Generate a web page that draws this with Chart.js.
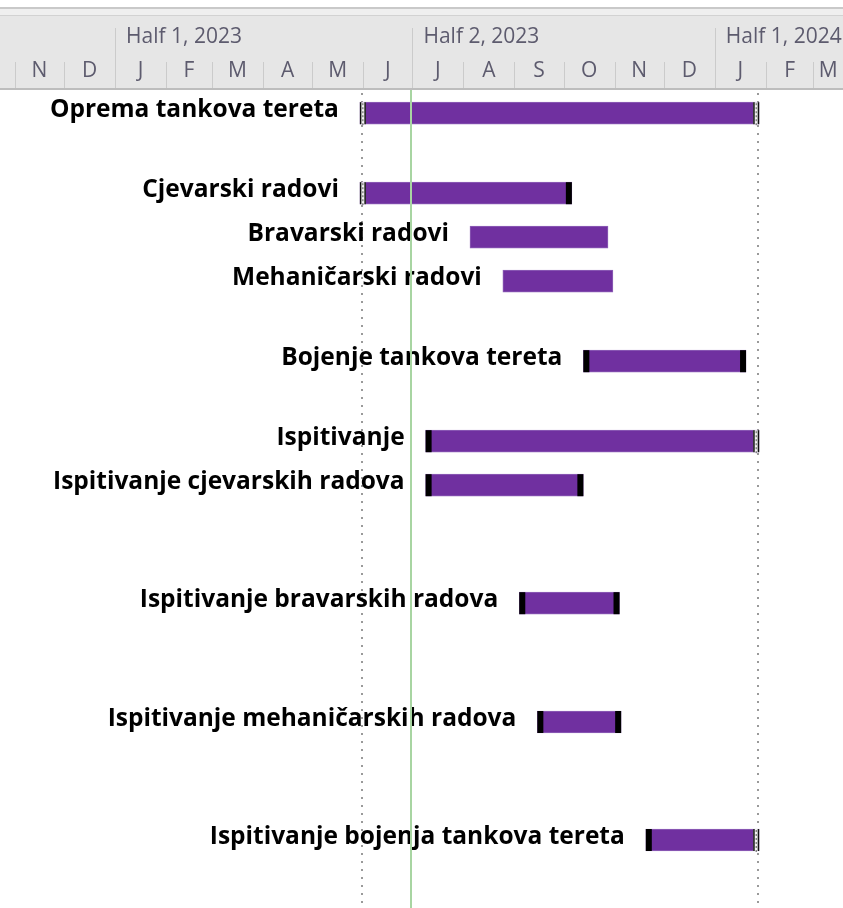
<!DOCTYPE html>
<html>
<head>
<meta charset="utf-8">
<script src="https://cdn.jsdelivr.net/npm/chart.js@4.4.1/dist/chart.umd.min.js"></script>
<style>
  html, body { margin: 0; padding: 0; background: #fff; }
  #wrap { width: 843px; height: 908px; }
</style>
</head>
<body>
<div id="wrap"><canvas id="gantt" width="843" height="908"></canvas></div>
<script>
// Tasks, in the order they appear in the view
const taskNames = [
    'Oprema tankova tereta',
    'Cjevarski radovi',
    'Bravarski radovi',
    'Mehaničarski radovi',
    'Bojenje tankova tereta',
    'Ispitivanje',
    'Ispitivanje cjevarskih radova',
    'Ispitivanje bravarskih radova',
    'Ispitivanje mehaničarskih radova',
    'Ispitivanje bojenja tankova tereta'
];
const taskStart = [
    '2023-05-30', '2023-05-30', '2023-08-05', '2023-08-25', '2023-10-13',
    '2023-07-09', '2023-07-09', '2023-09-04', '2023-09-15', '2023-11-20'
];
const taskFinish = [
    '2024-01-28', '2023-10-06', '2023-10-28', '2023-10-31', '2024-01-20',
    '2024-01-28', '2023-10-13', '2023-11-04', '2023-11-05', '2024-01-28'
];
// row (lane) of each task in the table, rows have different heights
const taskRow = [0.58, 2.58, 3.68, 4.78, 6.78, 8.78, 9.88, 12.83, 15.8, 18.75];
// bar end shapes: 'solid', 'hatch' or 'none'
const startMarks = ['hatch', 'hatch', 'none', 'none', 'solid', 'solid', 'solid', 'solid', 'solid', 'solid'];
const finishMarks = ['hatch', 'solid', 'none', 'none', 'solid', 'hatch', 'solid', 'solid', 'solid', 'hatch'];

const projectStart = '2023-05-31';
const projectFinish = '2024-01-27';
const statusDate = '2023-06-30';
const viewFrom = '2022-10-23';
const viewTo = '2024-03-19';
const rowCount = 20.45;

const monthLetters = ['J', 'F', 'M', 'A', 'M', 'J', 'J', 'A', 'S', 'O', 'N', 'D'];
const halfNames = ['Half 1', 'Half 2'];

const BAR_COLOR = '#7030a0';
const HEADER_H = 90;

// dates -> day numbers counted from 1 Jan 2023
const EPOCH = Date.UTC(2023, 0, 1);
function dayNum(s) {
    const p = s.split('-').map(Number);
    return (Date.UTC(p[0], p[1] - 1, p[2]) - EPOCH) / 86400000;
}
function dayOf(y, m) {
    return (Date.UTC(y, m, 1) - EPOCH) / 86400000;
}

const barData = taskNames.map((n, i) => ({
    x: [dayNum(taskStart[i]), dayNum(taskFinish[i])],
    y: taskRow[i]
}));

function dottedLine(ctx, x, top, bottom) {
    ctx.fillStyle = '#9a9a9a';
    for (let y = top + 3; y < bottom; y += 8) {
        ctx.fillRect(Math.round(x) - 1, y, 2, 2);
    }
}

// timescale header: halves on top tier, months on the bottom tier
const headerPlugin = {
    id: 'timescale',
    afterDraw(chart) {
        const ctx = chart.ctx;
        const xs = chart.scales.x;
        const W = chart.width;
        ctx.save();
        ctx.fillStyle = '#ffffff';
        ctx.fillRect(0, 0, W, HEADER_H);
        ctx.fillStyle = '#c9c9c9';
        ctx.fillRect(0, 7, W, 2);
        ctx.fillStyle = '#efefef';
        ctx.fillRect(0, 9, W, 6);
        ctx.fillStyle = '#d2d2d2';
        ctx.fillRect(0, 15, W, 1);
        ctx.fillStyle = '#e6e6e6';
        ctx.fillRect(0, 16, W, HEADER_H - 18);
        ctx.fillStyle = '#bdbdbd';
        ctx.fillRect(0, HEADER_H - 2, W, 2);

        ctx.font = '21px "Open Sans"';
        ctx.textBaseline = 'middle';
        const lo = xs.min, hi = xs.max;
        for (let y = 2022; y <= 2024; y++) {
            for (let m = 0; m < 12; m++) {
                const a = dayOf(y, m), b = dayOf(y, m + 1);
                if (b <= lo || a >= hi) continue;
                const pa = xs.getPixelForValue(a);
                const pb = xs.getPixelForValue(b);
                // divider at month start
                if (a > lo) {
                    ctx.fillStyle = '#cbcbcb';
                    if (m % 6 === 0) {
                        ctx.fillRect(Math.round(pa), 28, 1, HEADER_H - 30);
                        const half = halfNames[m / 6] + ', ' + y;
                        ctx.fillStyle = '#5d5b6e';
                        ctx.textAlign = 'left';
                        ctx.fillText(half, pa + 11, 37);
                    } else {
                        ctx.fillRect(Math.round(pa), 62, 1, HEADER_H - 64);
                    }
                }
                const va = Math.max(pa, 0), vb = Math.min(pb, W);
                if (vb - va < 25) continue;
                ctx.fillStyle = '#5d5b6e';
                ctx.textAlign = 'center';
                ctx.fillText(monthLetters[m], (va + vb) / 2, 71);
            }
        }
        ctx.restore();

        // status date line over everything
        const sx = xs.getPixelForValue(dayNum(statusDate));
        ctx.save();
        ctx.fillStyle = '#a8d5a2';
        ctx.fillRect(Math.round(sx) - 1, HEADER_H, 2, chart.height - HEADER_H);
        ctx.restore();
    }
};

// project start / finish dotted lines behind the bars
const gridPlugin = {
    id: 'projectLines',
    beforeDatasetsDraw(chart) {
        const ctx = chart.ctx;
        const xs = chart.scales.x;
        ctx.save();
        [projectStart, projectFinish].forEach(d => {
            dottedLine(ctx, xs.getPixelForValue(dayNum(d)), chart.chartArea.top, chart.chartArea.bottom);
        });
        ctx.restore();
    }
};

// bar end shapes and task names left of the bars
const taskPlugin = {
    id: 'taskDecor',
    afterDatasetsDraw(chart) {
        const ctx = chart.ctx;
        const bars = chart.getDatasetMeta(0).data;
        ctx.save();
        bars.forEach((bar, i) => {
            const left = Math.min(bar.x, bar.base);
            const right = Math.max(bar.x, bar.base);
            const top = bar.y - bar.height / 2;
            const h = bar.height;
            const drawMark = (type, x0) => {
                if (type === 'solid') {
                    ctx.fillStyle = '#000';
                    ctx.fillRect(x0, top, 6, h);
                } else if (type === 'hatch') {
                    ctx.fillStyle = '#f2f2f2';
                    ctx.fillRect(x0, top, 6, h);
                    ctx.fillStyle = '#111';
                    ctx.fillRect(x0, top, 1.5, h);
                    ctx.fillRect(x0 + 4.5, top, 1.5, h);
                    ctx.fillStyle = '#555';
                    for (let y = top + 1; y < top + h; y += 4) {
                        ctx.fillRect(x0 + 2.5, y, 1, 2);
                    }
                }
            };
            drawMark(startMarks[i], left);
            drawMark(finishMarks[i], right - 6);

            ctx.fillStyle = '#000';
            ctx.font = 'bold 24.5px "Open Sans"';
            ctx.textAlign = 'right';
            ctx.textBaseline = 'middle';
            ctx.fillText(taskNames[i], left - 21, bar.y - 3);
        });
        ctx.restore();
    }
};

new Chart(document.getElementById('gantt'), {
    type: 'bar',
    data: {
        datasets: [{
            data: barData,
            backgroundColor: BAR_COLOR,
            borderColor: '#8f62b8',
            borderWidth: 1,
            borderSkipped: false,
            barThickness: 22
        }]
    },
    options: {
        indexAxis: 'y',
        responsive: false,
        animation: false,
        layout: { padding: { top: HEADER_H, left: 0, right: 0, bottom: 0 } },
        plugins: {
            legend: { display: false },
            tooltip: { enabled: false }
        },
        scales: {
            x: { type: 'linear', min: dayNum(viewFrom), max: dayNum(viewTo), display: false },
            y: { type: 'linear', min: 0, max: rowCount, reverse: true, offset: false, display: false }
        }
    },
    plugins: [gridPlugin, taskPlugin, headerPlugin]
});
</script>
</body>
</html>
